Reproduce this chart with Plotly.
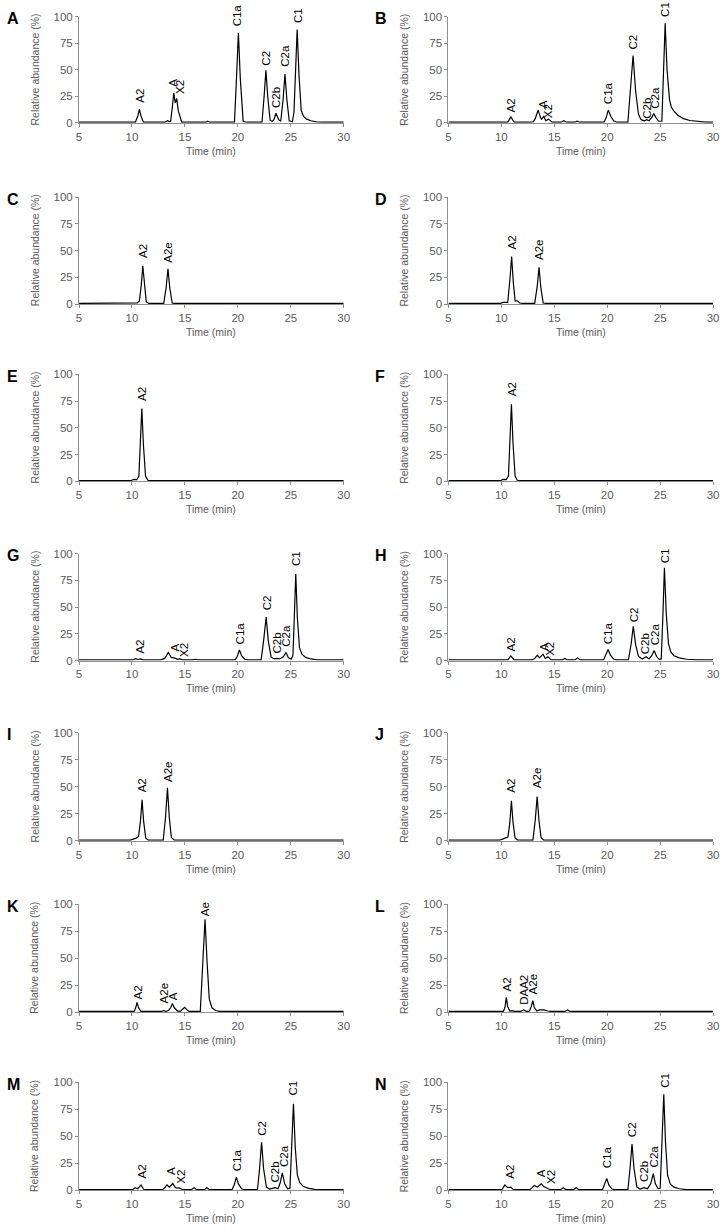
import plotly.graph_objects as go

# ---------------- data ----------------
panel_letters = ["A", "B", "C", "D", "E", "F", "G", "H", "I", "J", "K", "L", "M", "N"]

time_A = [5, 10.32, 10.55, 10.7, 10.85, 11.08, 13.1, 13.35, 13.55, 13.65, 13.8, 13.95, 14.08, 14.22, 14.38, 14.7,
          16.95, 17.15, 17.35, 19.68, 19.87, 20.05, 20.23, 20.5, 20.8, 22.28, 22.48, 22.65, 22.82, 23.05, 23.25,
          23.4, 23.6, 23.85, 24.05, 24.28, 24.45, 24.62, 24.85, 25.15, 25.3, 25.42, 25.6, 25.78, 25.98, 26.2, 26.5,
          26.9, 27.4, 28, 30]
abund_A = [0.6, 0.6, 6.5, 13, 6.5, 0.6, 0.6, 2, 1, 1.5, 14, 28, 19, 23, 11, 0.6,
           0.6, 1.5, 0.6, 0.6, 42, 85, 42, 1.5, 0.6, 0.6, 25, 49.5, 25, 2.5, 1.5,
           3, 9, 3, 1.5, 23, 46, 23, 2, 1, 10, 44, 88, 44, 12, 6, 3.5,
           2, 1, 0.6, 0.6]

time_B = [5, 10.6, 10.9, 11.2, 12.6, 13.0, 13.2, 13.47, 13.7, 13.8, 14.0, 14.2, 14.45, 14.8, 15.65, 15.9, 16.15,
          16.95, 17.15, 17.4, 19.7, 19.9, 20.1, 20.35, 20.6, 20.9, 21.95, 22.2, 22.44, 22.68, 22.95, 23.2, 23.5,
          23.72, 23.95, 24.2, 24.4, 24.6, 24.85, 25.16, 25.3, 25.47, 25.65, 25.88, 26.05, 26.3, 26.7, 27.2, 27.8,
          28.5, 29.3, 30]
abund_B = [0.6, 0.6, 5.6, 0.6, 0.6, 0.9, 4, 12, 5, 3.5, 6, 2, 3.5, 0.6, 0.6, 2, 0.6,
           0.6, 1.5, 0.6, 0.6, 5, 12, 6, 2, 0.6, 0.6, 30, 63.5, 30, 8, 3, 2,
           3, 2, 5, 8.7, 5, 1.5, 1.5, 45, 94, 50, 22, 15, 11, 7, 4, 2.2,
           1.2, 0.6, 0.6]

time_C = [5, 10.2, 10.5, 10.7, 10.87, 11.02, 11.17, 11.35, 11.6, 13.0, 13.22, 13.4, 13.57, 13.8, 14.0, 30]
abund_C = [0.6, 0.6, 1.2, 3, 17, 35.6, 17, 2, 0.6, 0.6, 15, 33, 15, 1, 0.6, 0.6]

time_D = [5, 9.9, 10.15, 10.4, 10.6, 10.8, 10.97, 11.13, 11.3, 11.5, 11.75, 12.0, 13.15, 13.38, 13.56, 13.72,
          13.95, 14.2, 30]
abund_D = [0.6, 0.6, 1.5, 1.5, 1.5, 22, 44.4, 20, 3, 3, 1, 0.6, 0.6, 16, 34.3, 16,
           1, 0.6, 0.6]

time_E = [5, 9.9, 10.15, 10.45, 10.65, 10.8, 10.93, 11.08, 11.28, 11.5, 11.8, 30]
abund_E = [0.6, 0.6, 1.8, 1.5, 5, 34, 68, 34, 5, 1, 0.6, 0.6]

time_F = [5, 9.9, 10.15, 10.45, 10.67, 10.82, 10.95, 11.1, 11.3, 11.5, 11.8, 30]
abund_F = [0.6, 0.6, 1.8, 1.5, 5, 36, 72, 36, 5, 1, 0.6, 0.6]

time_G = [5, 10.1, 10.35, 10.55, 10.8, 11.05, 12.7, 13.1, 13.43, 13.7, 14.0, 14.3, 14.5, 14.8, 15.8, 16.0, 16.25,
          17.0, 17.2, 17.45, 19.75, 19.95, 20.15, 20.35, 20.65, 20.9, 22.2, 22.45, 22.67, 22.88, 23.15, 23.45,
          23.7, 23.95, 24.3, 24.55, 24.78, 25.05, 25.2, 25.33, 25.47, 25.62, 25.82, 26.05, 26.4, 26.9, 27.5, 30]
abund_G = [0.6, 0.6, 1.8, 1, 1.5, 0.6, 0.6, 2, 7.5, 3, 2.5, 1.2, 1.5, 0.6, 0.6, 1.2, 0.6,
           0.6, 1, 0.6, 0.6, 4, 10, 4.5, 1.2, 0.6, 0.6, 20, 40.7, 18, 3, 1.5,
           2, 1.5, 3.5, 7.5, 2.5, 1.2, 5, 40, 81, 40, 12, 6, 3, 1.5, 0.6, 0.6]

time_H = [5, 10.6, 10.9, 11.2, 12.9, 13.15, 13.4, 13.6, 13.93, 14.15, 14.4, 14.7, 15.75, 16.0, 16.25, 16.95,
          17.2, 17.45, 19.65, 19.85, 20.08, 20.3, 20.6, 20.9, 22.0, 22.25, 22.46, 22.68, 22.95, 23.3, 23.68,
          23.95, 24.2, 24.44, 24.65, 24.9, 25.1, 25.25, 25.4, 25.57, 25.78, 26.0, 26.3, 26.8, 27.5, 28.5, 30]
abund_H = [0.6, 0.6, 4.3, 0.6, 0.6, 2, 5, 2.5, 6, 2, 3.5, 0.6, 0.6, 2, 0.6, 0.6,
           2.5, 0.6, 0.6, 4.5, 10.3, 5, 1.5, 0.6, 0.6, 15, 32, 15, 4, 1.5, 3.5,
           1.5, 4.5, 9.3, 4, 1.2, 1.5, 40, 86.7, 45, 16, 8, 4.5, 2.5, 1.2, 0.6, 0.6]

time_I = [5, 9.85, 10.1, 10.4, 10.62, 10.8, 10.95, 11.1, 11.3, 11.55, 12.95, 13.17, 13.35, 13.52, 13.72, 14.0, 30]
abund_I = [0.6, 0.6, 1.5, 2.5, 4, 18, 38, 18, 2.5, 0.6, 0.6, 22, 49, 22, 3, 0.6, 0.6]

time_J = [5, 9.85, 10.1, 10.4, 10.62, 10.8, 10.95, 11.1, 11.3, 11.55, 12.98, 13.2, 13.38, 13.55, 13.75, 14.0, 30]
abund_J = [0.6, 0.6, 1.5, 2.3, 3.5, 17, 37, 17, 2.5, 0.6, 0.6, 19, 41, 19, 3, 0.6, 0.6]

time_K = [5, 10.2, 10.35, 10.48, 10.62, 10.85, 12.8, 13.0, 13.2, 13.45, 13.65, 13.82, 14.0, 14.3, 14.6, 14.8,
          14.97, 15.15, 15.4, 16.45, 16.68, 16.9, 17.1, 17.3, 17.55, 17.9, 18.3, 30]
abund_K = [0.6, 0.6, 4, 9, 4, 0.6, 0.6, 1.5, 0.6, 1.5, 4, 8, 4, 1, 1, 3,
           4.5, 2.5, 0.6, 0.6, 40, 86, 45, 12, 4, 1.5, 0.6, 0.6]

time_L = [5, 10.2, 10.35, 10.47, 10.6, 10.8, 11.0, 11.3, 11.8, 12.1, 12.4, 12.65, 12.82, 12.97, 13.12, 13.35,
          13.6, 14.0, 14.4, 14.7, 16.0, 16.25, 16.5, 30]
abund_L = [0.6, 0.6, 5, 13.7, 5, 1, 1.3, 0.6, 0.6, 2, 0.6, 1, 5, 10.6, 4, 1,
           2, 2, 1, 0.6, 0.6, 2, 0.6, 0.6]

time_M = [5, 10.05, 10.3, 10.55, 10.85, 11.1, 11.4, 12.1, 12.3, 12.5, 12.9, 13.1, 13.3, 13.55, 13.85, 14.1,
          14.5, 14.8, 15.6, 15.87, 16.1, 16.85, 17.07, 17.3, 19.45, 19.65, 19.86, 20.05, 20.35, 20.6, 21.85,
          22.05, 22.24, 22.43, 22.7, 23.0, 23.5, 23.8, 24.0, 24.2, 24.42, 24.7, 24.92, 25.08, 25.25, 25.42,
          25.62, 25.85, 26.2, 26.7, 27.4, 30]
abund_M = [0.6, 0.6, 2.5, 1.5, 5, 1, 0.6, 0.6, 0.8, 0.6, 0.6, 2.5, 5, 3, 6.5, 2.5,
           2, 0.6, 0.6, 2.5, 0.6, 0.6, 2.5, 0.6, 0.6, 5, 12.3, 6, 1.5, 0.6, 0.6,
           20, 44.6, 20, 3, 1.2, 2.5, 1.5, 7, 16.3, 6, 1.5, 2, 40, 80.3, 40,
           14, 7, 3.5, 1.8, 0.6, 0.6]

time_N = [5, 10.05, 10.33, 10.6, 10.88, 11.1, 11.4, 11.9, 12.1, 12.3, 12.7, 12.9, 13.1, 13.4, 13.76, 14.0,
          14.3, 14.6, 15.6, 15.84, 16.1, 16.8, 17.07, 17.3, 19.55, 19.75, 19.95, 20.15, 20.45, 20.7, 21.95,
          22.15, 22.34, 22.53, 22.8, 23.1, 23.48, 23.8, 24.1, 24.35, 24.55, 24.8, 25.0, 25.17, 25.34, 25.5,
          25.7, 25.95, 26.3, 26.8, 27.5, 30]
abund_N = [0.6, 0.6, 5, 2.5, 3, 1, 0.6, 0.6, 0.8, 0.6, 0.6, 2.5, 4.5, 3, 6, 3.5,
           2, 0.6, 0.6, 2.5, 0.6, 0.6, 2.5, 0.6, 0.6, 5, 11, 5, 1.2, 0.6, 0.6,
           20, 43, 20, 3, 1.2, 2.5, 1.5, 6, 15.4, 6, 1.5, 2, 45, 89, 45,
           14, 6, 3, 1.5, 0.6, 0.6]

# peak labels: text, retention time (label centre), abundance at label bottom
labels_A = ["A2", "A", "X2", "C1a", "C2", "C2b", "C2a", "C1"]
label_t_A = [10.75, 13.85, 14.6, 20.0, 22.7, 23.55, 24.45, 25.7]
label_y_A = [18, 33, 26, 90, 53, 13, 52, 93]

labels_B = ["A2", "A", "X2", "C1a", "C2", "C2b", "C2a", "C1"]
label_t_B = [10.9, 13.95, 14.4, 20.1, 22.45, 23.75, 24.55, 25.5]
label_y_B = [8.7, 13, 3.4, 17, 68, 3.4, 12.8, 99]

labels_C = ["A2", "A2e"]
label_t_C = [11.02, 13.43]
label_y_C = [42, 38]

labels_D = ["A2", "A2e"]
label_t_D = [10.99, 13.62]
label_y_D = [50, 40]

labels_E = ["A2"]
label_t_E = [10.92]
label_y_E = [74]

labels_F = ["A2"]
label_t_F = [10.95]
label_y_F = [79]

labels_G = ["A2", "A", "X2", "C1a", "C2", "C2b", "C2a", "C1"]
label_t_G = [10.8, 14.05, 14.85, 20.15, 22.7, 23.7, 24.6, 25.5]
label_y_G = [6, 7.5, 2.8, 14.6, 46, 5.3, 11.5, 87]

labels_H = ["A2", "A", "X2", "C1a", "C2", "C2b", "C2a", "C1"]
label_t_H = [10.9, 13.95, 14.65, 20.1, 22.5, 23.65, 24.47, 25.4]
label_y_H = [7.5, 8.4, 3.1, 14.6, 35, 5.3, 13, 90]

labels_I = ["A2", "A2e"]
label_t_I = [10.95, 13.35]
label_y_I = [44, 54]

labels_J = ["A2", "A2e"]
label_t_J = [10.95, 13.38]
label_y_J = [44, 48]

labels_K = ["A2", "A2e", "A", "Ae"]
label_t_K = [10.57, 12.99, 13.85, 16.9]
label_y_K = [10.8, 6.8, 9.8, 88]

labels_L = ["A2", "DAA2", "A2e"]
label_t_L = [10.56, 12.06, 12.97]
label_y_L = [18.4, 6, 15.3]

labels_M = ["A2", "A", "X2", "C1a", "C2", "C2b", "C2a", "C1"]
label_t_M = [10.91, 13.76, 14.63, 20.0, 22.25, 23.5, 24.35, 25.25]
label_y_M = [9.8, 13, 5.2, 16.6, 49.8, 6.8, 20.6, 86.8]

labels_N = ["A2", "A", "X2", "C1a", "C2", "C2b", "C2a", "C1"]
label_t_N = [10.79, 13.82, 14.69, 20.0, 22.35, 23.48, 24.38, 25.5]
label_y_N = [9.6, 11, 5, 19.8, 48, 6.5, 20, 94]

x_ticks = [5, 10, 15, 20, 25, 30]
y_ticks = [0, 25, 50, 75, 100]
x_title = "Time (min)"
y_title = "Relative abundance (%)"

series = {
    "A": (time_A, abund_A, labels_A, label_t_A, label_y_A),
    "B": (time_B, abund_B, labels_B, label_t_B, label_y_B),
    "C": (time_C, abund_C, labels_C, label_t_C, label_y_C),
    "D": (time_D, abund_D, labels_D, label_t_D, label_y_D),
    "E": (time_E, abund_E, labels_E, label_t_E, label_y_E),
    "F": (time_F, abund_F, labels_F, label_t_F, label_y_F),
    "G": (time_G, abund_G, labels_G, label_t_G, label_y_G),
    "H": (time_H, abund_H, labels_H, label_t_H, label_y_H),
    "I": (time_I, abund_I, labels_I, label_t_I, label_y_I),
    "J": (time_J, abund_J, labels_J, label_t_J, label_y_J),
    "K": (time_K, abund_K, labels_K, label_t_K, label_y_K),
    "L": (time_L, abund_L, labels_L, label_t_L, label_y_L),
    "M": (time_M, abund_M, labels_M, label_t_M, label_y_M),
    "N": (time_N, abund_N, labels_N, label_t_N, label_y_N),
}

# ---------------- layout ----------------
W, H = 728, 1232
FONT = "Liberation Sans, Arial, sans-serif"
AXIS_GRAY = "#8f8f8f"
TICK_TXT = "#5a5a5a"
col_px = [(77, 345), (451, 719)]
row_px = [(11, 118), (193, 301), (372, 480), (553, 661), (734, 843), (907, 1016), (1087, 1196)]
letter_x = [2, 375]

fig = go.Figure()
layout = dict(
    width=W, height=H, margin=dict(l=0, r=0, t=0, b=0),
    paper_bgcolor="white", plot_bgcolor="white", showlegend=False,
    font=dict(family=FONT, color="black"),
)
annotations = []

for i, letter in enumerate(panel_letters):
    r, c = divmod(i, 2)
    x0, x1 = col_px[c]
    y0, y1 = row_px[r]
    n = "" if i == 0 else str(i + 1)
    t, a, labs, lt, ly = series[letter]

    fig.add_trace(go.Scatter(
        x=t, y=a, mode="lines", line=dict(color="black", width=1.2),
        xaxis="x" + n, yaxis="y" + n, hoverinfo="skip", cliponaxis=False,
    ))

    common = dict(
        showline=True, linecolor=AXIS_GRAY, linewidth=1, ticks="outside",
        ticklen=3, tickwidth=1, tickcolor=AXIS_GRAY, showgrid=False,
        zeroline=False, layer="below traces",
        tickfont=dict(family=FONT, size=11.5, color=TICK_TXT), fixedrange=True,
    )
    layout["xaxis" + n] = dict(
        common, domain=[x0 / W, x1 / W], range=[5, 30], tickvals=x_ticks,
        anchor="y" + n,
    )
    layout["yaxis" + n] = dict(
        common, domain=[1 - y1 / H, 1 - y0 / H], range=[0, 100], tickvals=y_ticks,
        anchor="x" + n,
    )

    # peak labels
    for txt, xt, yt in zip(labs, lt, ly):
        annotations.append(dict(
            x=xt, y=yt, xref="x" + n, yref="y" + n, text=txt, showarrow=False,
            textangle=-90, xanchor="center", yanchor="bottom",
            font=dict(family=FONT, size=11.5, color="black"), borderpad=0,
        ))

    # axis titles
    annotations.append(dict(
        x=(x0 - 45) / W, y=1 - (y0 + y1) / 2 / H, xref="paper", yref="paper",
        text=y_title, showarrow=False, textangle=-90, xanchor="center",
        yanchor="middle", font=dict(family=FONT, size=10.5, color=TICK_TXT),
    ))
    annotations.append(dict(
        x=(x0 + x1) / 2 / W, y=1 - (y1 + 28) / H, xref="paper", yref="paper",
        text=x_title, showarrow=False, xanchor="center", yanchor="middle",
        font=dict(family=FONT, size=10.5, color=TICK_TXT),
    ))
    # panel letter
    annotations.append(dict(
        x=letter_x[c] / W, y=1 - (y0 + 2) / H, xref="paper", yref="paper",
        text="<b>" + letter + "</b>", showarrow=False, xanchor="left",
        yanchor="middle", font=dict(family=FONT, size=16, color="black"),
    ))

layout["annotations"] = annotations
fig.update_layout(**layout)
fig.write_html(
    "out.html",
    config={"displayModeBar": False},
    post_script="document.body.style.margin='0';document.body.style.overflow='hidden';",
)
